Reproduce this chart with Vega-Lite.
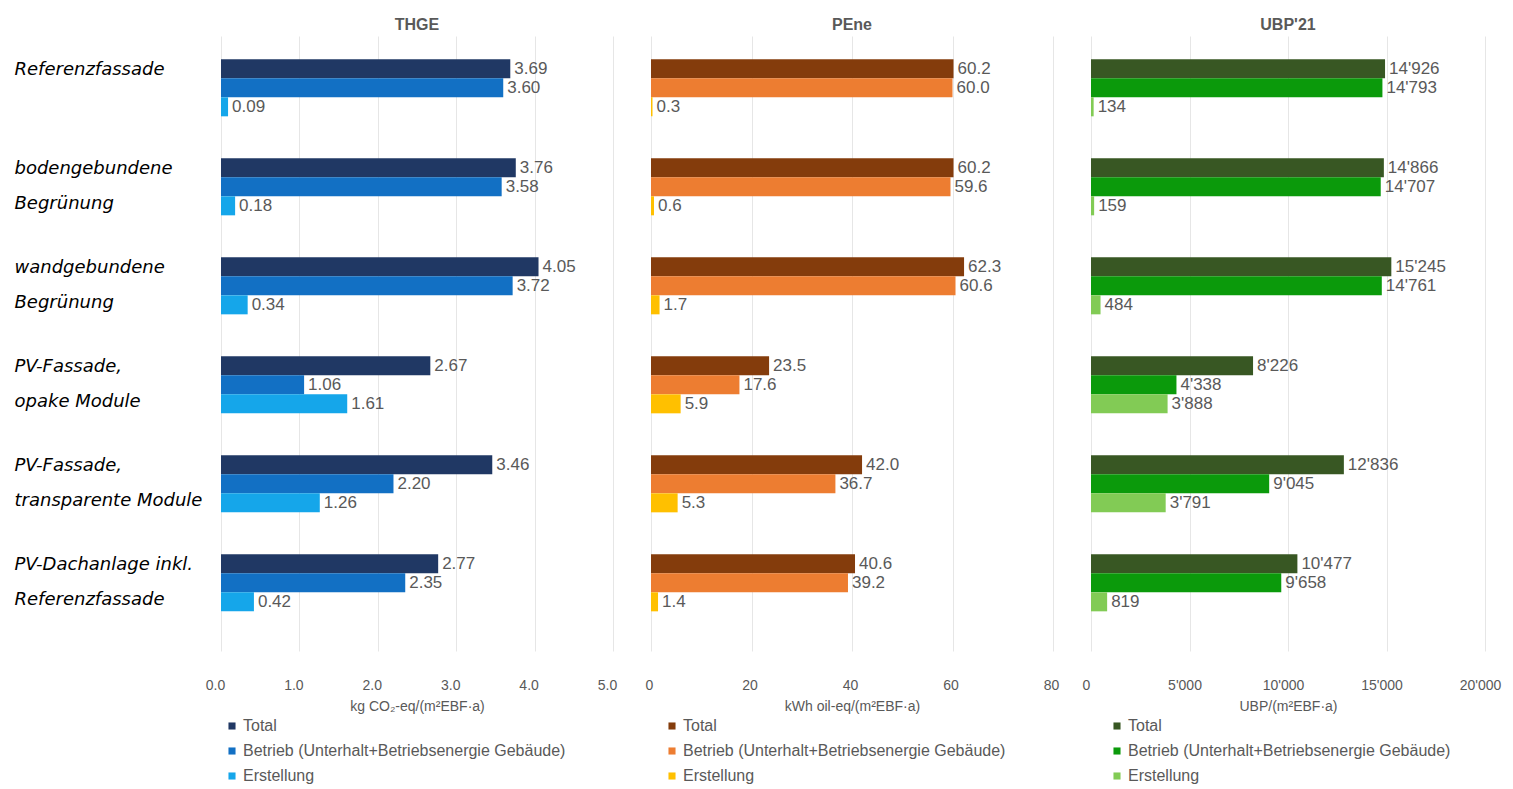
{
  "$schema": "https://vega.github.io/schema/vega-lite/v6.json",
  "padding": {"left": 14, "top": 17, "right": 10, "bottom": 0},
  "background": "white",
  "data": {"values": [
    {"panel": "THGE", "cat": "Referenzfassade", "series": "Total", "value": 3.69},
    {"panel": "THGE", "cat": "Referenzfassade", "series": "Betrieb (Unterhalt+Betriebsenergie Gebäude)", "value": 3.60},
    {"panel": "THGE", "cat": "Referenzfassade", "series": "Erstellung", "value": 0.09},
    {"panel": "THGE", "cat": "bodengebundene|Begrünung", "series": "Total", "value": 3.76},
    {"panel": "THGE", "cat": "bodengebundene|Begrünung", "series": "Betrieb (Unterhalt+Betriebsenergie Gebäude)", "value": 3.58},
    {"panel": "THGE", "cat": "bodengebundene|Begrünung", "series": "Erstellung", "value": 0.18},
    {"panel": "THGE", "cat": "wandgebundene|Begrünung", "series": "Total", "value": 4.05},
    {"panel": "THGE", "cat": "wandgebundene|Begrünung", "series": "Betrieb (Unterhalt+Betriebsenergie Gebäude)", "value": 3.72},
    {"panel": "THGE", "cat": "wandgebundene|Begrünung", "series": "Erstellung", "value": 0.34},
    {"panel": "THGE", "cat": "PV-Fassade,|opake Module", "series": "Total", "value": 2.67},
    {"panel": "THGE", "cat": "PV-Fassade,|opake Module", "series": "Betrieb (Unterhalt+Betriebsenergie Gebäude)", "value": 1.06},
    {"panel": "THGE", "cat": "PV-Fassade,|opake Module", "series": "Erstellung", "value": 1.61},
    {"panel": "THGE", "cat": "PV-Fassade,|transparente Module", "series": "Total", "value": 3.46},
    {"panel": "THGE", "cat": "PV-Fassade,|transparente Module", "series": "Betrieb (Unterhalt+Betriebsenergie Gebäude)", "value": 2.20},
    {"panel": "THGE", "cat": "PV-Fassade,|transparente Module", "series": "Erstellung", "value": 1.26},
    {"panel": "THGE", "cat": "PV-Dachanlage inkl.|Referenzfassade", "series": "Total", "value": 2.77},
    {"panel": "THGE", "cat": "PV-Dachanlage inkl.|Referenzfassade", "series": "Betrieb (Unterhalt+Betriebsenergie Gebäude)", "value": 2.35},
    {"panel": "THGE", "cat": "PV-Dachanlage inkl.|Referenzfassade", "series": "Erstellung", "value": 0.42},
    {"panel": "PEne", "cat": "Referenzfassade", "series": "Total", "value": 60.2},
    {"panel": "PEne", "cat": "Referenzfassade", "series": "Betrieb (Unterhalt+Betriebsenergie Gebäude)", "value": 60.0},
    {"panel": "PEne", "cat": "Referenzfassade", "series": "Erstellung", "value": 0.3},
    {"panel": "PEne", "cat": "bodengebundene|Begrünung", "series": "Total", "value": 60.2},
    {"panel": "PEne", "cat": "bodengebundene|Begrünung", "series": "Betrieb (Unterhalt+Betriebsenergie Gebäude)", "value": 59.6},
    {"panel": "PEne", "cat": "bodengebundene|Begrünung", "series": "Erstellung", "value": 0.6},
    {"panel": "PEne", "cat": "wandgebundene|Begrünung", "series": "Total", "value": 62.3},
    {"panel": "PEne", "cat": "wandgebundene|Begrünung", "series": "Betrieb (Unterhalt+Betriebsenergie Gebäude)", "value": 60.6},
    {"panel": "PEne", "cat": "wandgebundene|Begrünung", "series": "Erstellung", "value": 1.7},
    {"panel": "PEne", "cat": "PV-Fassade,|opake Module", "series": "Total", "value": 23.5},
    {"panel": "PEne", "cat": "PV-Fassade,|opake Module", "series": "Betrieb (Unterhalt+Betriebsenergie Gebäude)", "value": 17.6},
    {"panel": "PEne", "cat": "PV-Fassade,|opake Module", "series": "Erstellung", "value": 5.9},
    {"panel": "PEne", "cat": "PV-Fassade,|transparente Module", "series": "Total", "value": 42.0},
    {"panel": "PEne", "cat": "PV-Fassade,|transparente Module", "series": "Betrieb (Unterhalt+Betriebsenergie Gebäude)", "value": 36.7},
    {"panel": "PEne", "cat": "PV-Fassade,|transparente Module", "series": "Erstellung", "value": 5.3},
    {"panel": "PEne", "cat": "PV-Dachanlage inkl.|Referenzfassade", "series": "Total", "value": 40.6},
    {"panel": "PEne", "cat": "PV-Dachanlage inkl.|Referenzfassade", "series": "Betrieb (Unterhalt+Betriebsenergie Gebäude)", "value": 39.2},
    {"panel": "PEne", "cat": "PV-Dachanlage inkl.|Referenzfassade", "series": "Erstellung", "value": 1.4},
    {"panel": "UBP", "cat": "Referenzfassade", "series": "Total", "value": 14926},
    {"panel": "UBP", "cat": "Referenzfassade", "series": "Betrieb (Unterhalt+Betriebsenergie Gebäude)", "value": 14793},
    {"panel": "UBP", "cat": "Referenzfassade", "series": "Erstellung", "value": 134},
    {"panel": "UBP", "cat": "bodengebundene|Begrünung", "series": "Total", "value": 14866},
    {"panel": "UBP", "cat": "bodengebundene|Begrünung", "series": "Betrieb (Unterhalt+Betriebsenergie Gebäude)", "value": 14707},
    {"panel": "UBP", "cat": "bodengebundene|Begrünung", "series": "Erstellung", "value": 159},
    {"panel": "UBP", "cat": "wandgebundene|Begrünung", "series": "Total", "value": 15245},
    {"panel": "UBP", "cat": "wandgebundene|Begrünung", "series": "Betrieb (Unterhalt+Betriebsenergie Gebäude)", "value": 14761},
    {"panel": "UBP", "cat": "wandgebundene|Begrünung", "series": "Erstellung", "value": 484},
    {"panel": "UBP", "cat": "PV-Fassade,|opake Module", "series": "Total", "value": 8226},
    {"panel": "UBP", "cat": "PV-Fassade,|opake Module", "series": "Betrieb (Unterhalt+Betriebsenergie Gebäude)", "value": 4338},
    {"panel": "UBP", "cat": "PV-Fassade,|opake Module", "series": "Erstellung", "value": 3888},
    {"panel": "UBP", "cat": "PV-Fassade,|transparente Module", "series": "Total", "value": 12836},
    {"panel": "UBP", "cat": "PV-Fassade,|transparente Module", "series": "Betrieb (Unterhalt+Betriebsenergie Gebäude)", "value": 9045},
    {"panel": "UBP", "cat": "PV-Fassade,|transparente Module", "series": "Erstellung", "value": 3791},
    {"panel": "UBP", "cat": "PV-Dachanlage inkl.|Referenzfassade", "series": "Total", "value": 10477},
    {"panel": "UBP", "cat": "PV-Dachanlage inkl.|Referenzfassade", "series": "Betrieb (Unterhalt+Betriebsenergie Gebäude)", "value": 9658},
    {"panel": "UBP", "cat": "PV-Dachanlage inkl.|Referenzfassade", "series": "Erstellung", "value": 819}
  ]},
  "spacing": 38,
  "bounds": "flush",
  "resolve": {"scale": {"color": "independent", "x": "independent"}, "legend": {"color": "independent"}},
  "hconcat": [
    {
      "width": 392, "height": 615,
      "title": {"text": "THGE"},
      "transform": [{"filter": "datum.panel === 'THGE'"}],
      "encoding": {
        "y": {"field": "cat", "type": "nominal", "sort": null,
          "scale": {"paddingInner": 0.424, "paddingOuter": 0.318, "align": 0.37},
          "axis": {"title": null, "ticks": false, "domain": false, "grid": false, "labelAlign": "left", "labelBaseline": "middle", "labelPadding": 207, "labelOffset": -18, "labelFont": "DejaVu Sans", "labelFontStyle": "italic", "labelFontSize": 18, "labelColor": "#000000", "labelLineHeight": 35, "labelLimit": 400,
            "labelExpr": "split(datum.label, '|')"}},
        "yOffset": {"field": "series", "type": "nominal", "sort": null, "scale": {"paddingInner": 0, "paddingOuter": 0}},
        "x": {"field": "value", "type": "quantitative", "scale": {"domain": [0, 5], "nice": false},
          "axis": {"values": [0, 1, 2, 3, 4, 5], "format": ".1f", "title": "kg CO₂-eq/(m²EBF·a)", "labelOffset": -6}}
      },
      "layer": [
        {"mark": {"type": "bar"},
         "encoding": {"color": {"field": "series", "type": "nominal", "sort": null,
           "scale": {"domain": ["Total", "Betrieb (Unterhalt+Betriebsenergie Gebäude)", "Erstellung"], "range": ["#203864", "#1270C4", "#15A6EA"]},
           "legend": {"orient": "none", "legendX": 3, "legendY": 682}}}},
        {"mark": {"type": "text", "align": "left", "baseline": "middle", "dx": 4},
         "encoding": {"text": {"field": "value", "type": "quantitative", "format": ".2f"}}}
      ]
    },
    {
      "width": 402, "height": 615,
      "title": {"text": "PEne"},
      "transform": [{"filter": "datum.panel === 'PEne'"}],
      "encoding": {
        "y": {"field": "cat", "type": "nominal", "sort": null,
          "scale": {"paddingInner": 0.424, "paddingOuter": 0.318, "align": 0.37}, "axis": null},
        "yOffset": {"field": "series", "type": "nominal", "sort": null, "scale": {"paddingInner": 0, "paddingOuter": 0}},
        "x": {"field": "value", "type": "quantitative", "scale": {"domain": [0, 80], "nice": false},
          "axis": {"values": [0, 20, 40, 60, 80], "format": "d", "title": "kWh oil-eq/(m²EBF·a)", "labelOffset": -2}}
      },
      "layer": [
        {"mark": {"type": "bar"},
         "encoding": {"color": {"field": "series", "type": "nominal", "sort": null,
           "scale": {"domain": ["Total", "Betrieb (Unterhalt+Betriebsenergie Gebäude)", "Erstellung"], "range": ["#843C0C", "#ED7D31", "#FFC000"]},
           "legend": {"orient": "none", "legendX": 13, "legendY": 682}}}},
        {"mark": {"type": "text", "align": "left", "baseline": "middle", "dx": 4},
         "encoding": {"text": {"field": "value", "type": "quantitative", "format": ".1f"}}}
      ]
    },
    {
      "width": 394, "height": 615,
      "title": {"text": "UBP'21"},
      "transform": [{"filter": "datum.panel === 'UBP'"}],
      "encoding": {
        "y": {"field": "cat", "type": "nominal", "sort": null,
          "scale": {"paddingInner": 0.424, "paddingOuter": 0.318, "align": 0.37}, "axis": null},
        "yOffset": {"field": "series", "type": "nominal", "sort": null, "scale": {"paddingInner": 0, "paddingOuter": 0}},
        "x": {"field": "value", "type": "quantitative", "scale": {"domain": [0, 20000], "nice": false},
          "axis": {"values": [0, 5000, 10000, 15000, 20000], "format": ",d", "title": "UBP/(m²EBF·a)", "labelOffset": -5}}
      },
      "layer": [
        {"mark": {"type": "bar"},
         "encoding": {"color": {"field": "series", "type": "nominal", "sort": null,
           "scale": {"domain": ["Total", "Betrieb (Unterhalt+Betriebsenergie Gebäude)", "Erstellung"], "range": ["#385723", "#0B9A0B", "#82CB55"]},
           "legend": {"orient": "none", "legendX": 18, "legendY": 682}}}},
        {"mark": {"type": "text", "align": "left", "baseline": "middle", "dx": 4},
         "encoding": {"text": {"field": "value", "type": "quantitative", "format": ",.0f"}}}
      ]
    }
  ],
  "config": {
    "locale": {"number": {"decimal": ".", "thousands": "'", "grouping": [3], "currency": ["", ""]}},
    "view": {"stroke": null},
    "font": "Liberation Sans",
    "title": {"font": "Liberation Sans", "fontSize": 16, "fontWeight": "bold", "color": "#595959", "anchor": "middle", "offset": 3},
    "axisX": {"grid": true, "gridColor": "#E6E6E6", "gridWidth": 1, "domain": false, "ticks": false, "labelFlush": false, "labelPadding": 27, "labelFont": "Liberation Sans", "labelFontSize": 14, "labelColor": "#595959", "titleFont": "Liberation Sans", "titleFontSize": 14, "titleFontWeight": "normal", "titleColor": "#595959", "titlePadding": 7},
    "text": {"font": "Liberation Sans", "fontSize": 17, "color": "#595959"},
    "legend": {"title": null, "direction": "vertical", "symbolType": "square", "symbolSize": 50, "symbolStrokeWidth": 0, "labelFont": "Liberation Sans", "labelFontSize": 16, "labelColor": "#595959", "labelLimit": 600, "rowPadding": 9, "padding": 0, "labelOffset": 3}
  }
}
